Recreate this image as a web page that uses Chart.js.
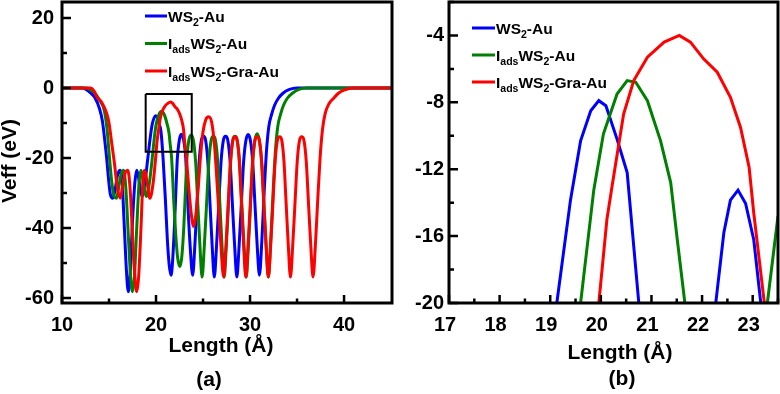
<!DOCTYPE html>
<html><head><meta charset="utf-8">
<script src="https://cdn.jsdelivr.net/npm/chart.js@4"></script>
<style>
html,body{margin:0;padding:0;background:#fff;width:780px;height:394px;overflow:hidden}
#a{position:absolute;left:0;top:0}
#b{position:absolute;left:395px;top:0}
</style></head><body>
<canvas id="a" width="395" height="394"></canvas>
<canvas id="b" width="385" height="394"></canvas>
<script>
// ---------- data ----------
const seriesNames = ['WS_{2}-Au', 'I_{ads}WS_{2}-Au', 'I_{ads}WS_{2}-Gra-Au'];
const seriesColors = ['#0000ff', '#008000', '#ff0000'];

const blueX = [10,12.2,12.6,13.0,13.5,14.0,14.3,14.55,14.75,14.95,15.15,15.4,15.65,15.9,16.15,16.4,16.6,16.85,17.05,17.25,17.5,17.75,17.95,18.2,18.5,18.8,19.13,19.4,19.6,19.8,19.96,20.1,20.32,20.52,20.75,21.0,21.2,21.4,21.6,21.75,21.95,22.12,22.27,22.43,22.56,22.71,22.86,23.02,23.16,23.4,23.65,23.9,24.13,24.36,24.59,24.82,25.05,25.28,25.51,25.74,25.97,26.2,26.44,26.68,26.92,27.16,27.4,27.64,27.88,28.12,28.36,28.6,28.84,29.08,29.32,29.56,29.8,30.04,30.28,30.52,30.76,31.0,31.25,31.5,31.75,32.0,32.3,32.6,33.0,33.5,34.2,35.0,45.1];
const blueY = [0,0,-0.5,-1.3,-2.8,-6,-9.5,-15,-20,-26,-30.5,-31.5,-29,-25,-23.5,-27,-38,-52,-58.2,-53,-38,-27,-23.5,-26.5,-31,-27.5,-20,-13.85,-10.3,-8.5,-7.9,-8.2,-10.2,-12.2,-20,-32,-43,-50.5,-53.5,-50,-40,-29,-20,-15.8,-13.85,-13.25,-14.05,-16.2,-20,-34,-46,-53.5,-45,-33,-21,-15,-13.8,-15,-21,-33,-45,-54,-45,-33,-21,-15,-13.8,-15,-21,-33,-45,-54,-45,-33,-21,-15,-13.3,-15,-21,-33,-45,-53.5,-44,-30,-18,-11,-7.5,-5,-3,-1.5,-0.4,0,0];

const greenX = [10,12.6,13.0,13.5,14.0,14.5,14.8,15.05,15.3,15.55,15.8,16.05,16.3,16.55,16.8,17.05,17.3,17.5,17.7,17.95,18.2,18.4,18.65,18.95,19.3,19.6,19.86,20.05,20.32,20.52,20.69,20.92,21.18,21.38,21.51,21.66,21.9,22.1,22.3,22.55,22.75,22.95,23.15,23.29,23.5,23.75,23.98,24.21,24.44,24.67,24.9,25.14,25.38,25.62,25.86,26.1,26.33,26.56,26.79,27.02,27.25,27.48,27.71,27.94,28.17,28.4,28.64,28.88,29.12,29.36,29.6,29.83,30.06,30.29,30.52,30.75,30.99,31.23,31.47,31.71,31.95,32.2,32.45,32.7,32.95,33.25,33.55,33.95,34.5,35.2,36.0,45.1];
const greenY = [0,0,-0.5,-1.5,-3.5,-6.5,-12,-20,-27,-31,-31.5,-28,-24.5,-23.5,-29,-42,-54,-58.2,-54,-40,-27,-23.5,-27,-31,-27,-20,-13.25,-9.9,-7.5,-6.7,-6.8,-7.9,-10.3,-12.8,-16.2,-20,-33,-42,-48.5,-51,-48,-40,-28,-20,-14.8,-13.4,-15,-21,-33,-45,-54,-45,-33,-21,-15,-13.8,-15,-21,-33,-45,-54,-45,-33,-21,-15,-13.8,-15,-21,-33,-45,-54,-45,-33,-21,-15,-13.1,-15,-21,-33,-45,-54,-44,-30,-18,-11,-7.5,-5,-3,-1.5,-0.4,0,0];

const redX = [10,13.0,13.4,13.7,14.2,14.75,15.0,15.3,15.6,15.85,16.2,16.5,16.75,17.0,17.25,17.5,17.75,17.95,18.15,18.4,18.6,18.8,19.05,19.35,19.7,19.96,20.12,20.22,20.45,20.65,20.92,21.25,21.55,21.77,22.03,22.3,22.56,22.76,22.93,23.02,23.23,23.5,23.75,24.0,24.25,24.5,24.75,25.0,25.3,25.6,25.92,26.24,26.56,26.88,27.2,27.44,27.68,27.92,28.16,28.4,28.63,28.86,29.09,29.32,29.55,29.79,30.03,30.27,30.51,30.75,30.99,31.23,31.47,31.71,31.95,32.19,32.43,32.67,32.91,33.15,33.38,33.61,33.84,34.07,34.3,34.54,34.78,35.02,35.26,35.5,35.74,35.98,36.22,36.46,36.7,36.95,37.2,37.45,37.7,38.0,38.4,38.9,39.4,40.0,41.0,45.1];
const redY = [0,0,-0.8,-2.5,-4,-7.2,-10,-16,-22,-28,-31.5,-27,-24,-23.5,-29,-42,-54,-58.2,-54,-40,-27,-23.5,-27,-31.5,-27,-20,-15,-13.05,-8.7,-6.7,-5.3,-4.4,-4.0,-4.4,-5.4,-6.2,-7.7,-9.5,-11.9,-14.6,-20,-29,-36,-39.6,-36,-28,-19,-12.5,-9,-8.2,-9.8,-17,-30,-44,-54,-45,-33,-21,-15,-13.9,-15,-21,-33,-45,-54,-45,-33,-21,-15,-13.9,-15,-21,-33,-45,-54,-45,-33,-21,-15,-13.9,-15,-21,-33,-45,-54,-45,-33,-21,-15,-13.9,-15,-21,-33,-45,-54,-45,-32,-20,-12,-7.2,-4.5,-2.9,-1.5,-0.6,0,0];

// zoom box drawn in panel (a)
const boxX = [18.9, 23.8];
const boxY = [-18.2, -1.7];

// tick values
const aXTicks = [10, 20, 30, 40];
const aXMinor = [15, 25, 35];
const aYTicks = [-60, -40, -20, 0, 20];
const aYMinor = [-50, -30, -10, 10];
const bXTicks = [17, 18, 19, 20, 21, 22, 23];
const bXMinor = [17.5, 18.5, 19.5, 20.5, 21.5, 22.5, 23.5];
const bYTicks = [-20, -16, -12, -8, -4];
const bYMinor = [-18, -14, -10, -6, -2];

const xTitle = 'Length (Å)';
const yTitle = 'Veff (eV)';

// ---------- helpers ----------
const FONT = '"Liberation Sans", Arial, Helvetica, sans-serif';
const pts = (xs, ys) => xs.map((x, i) => ({x, y: ys[i]}));
function parseRich(s){
  const parts=[]; const re=/_\{([^}]*)\}/g; let last=0,m;
  while((m=re.exec(s))){ if(m.index>last) parts.push({t:s.slice(last,m.index),sub:false}); parts.push({t:m[1],sub:true}); last=re.lastIndex; }
  if(last<s.length) parts.push({t:s.slice(last),sub:false});
  return parts;
}
function drawRich(ctx, s, x, y, size){
  let cx = x;
  ctx.textAlign='left'; ctx.textBaseline='alphabetic';
  for(const p of parseRich(s)){
    const fs = p.sub ? size*0.68 : size;
    ctx.font = 'bold ' + fs + 'px ' + FONT;
    ctx.fillText(p.t, cx, p.sub ? y + size*0.28 : y);
    cx += ctx.measureText(p.t).width;
  }
}
const decor = {
  id: 'decor',
  afterDraw(chart, args, o){
    const ctx = chart.ctx, a = chart.chartArea, xs = chart.scales.x, ys = chart.scales.y;
    ctx.save();
    ctx.strokeStyle = '#000'; ctx.fillStyle = '#000';
    ctx.lineWidth = 2.5;
    ctx.beginPath();
    o.xMajor.forEach(v => { const p = xs.getPixelForValue(v); ctx.moveTo(p, a.bottom); ctx.lineTo(p, a.bottom - 8); });
    o.xMinor.forEach(v => { const p = xs.getPixelForValue(v); ctx.moveTo(p, a.bottom); ctx.lineTo(p, a.bottom - 4.5); });
    o.yMajor.forEach(v => { const p = ys.getPixelForValue(v); ctx.moveTo(a.left, p); ctx.lineTo(a.left + 9, p); });
    o.yMinor.forEach(v => { const p = ys.getPixelForValue(v); ctx.moveTo(a.left, p); ctx.lineTo(a.left + 5, p); });
    ctx.stroke();
    ctx.lineWidth = 3;
    ctx.strokeRect(a.left, a.top, a.right - a.left, a.bottom - a.top);
    // legend
    seriesNames.forEach((n, i) => {
      const y = o.legY + i * o.legDy;
      ctx.strokeStyle = seriesColors[i]; ctx.lineWidth = 3;
      ctx.beginPath(); ctx.moveTo(o.legX, y); ctx.lineTo(o.legX + o.legLen, y); ctx.stroke();
      ctx.fillStyle = '#000';
      drawRich(ctx, n, o.legX + o.legLen + 1, y + 5.5, 15.5);
    });
    // titles
    ctx.fillStyle = '#000';
    ctx.textAlign = 'center'; ctx.textBaseline = 'alphabetic';
    ctx.font = 'bold 21px ' + FONT;
    ctx.fillText(xTitle, o.xtX, o.xtY);
    ctx.fillText(o.panel, o.pX, o.pY);
    if (o.yTitle) {
      ctx.translate(o.ytX, o.ytY); ctx.rotate(-Math.PI/2);
      ctx.textBaseline = 'middle';
      ctx.fillText(yTitle, 0, 0);
    }
    ctx.restore();
  }
};

function makeChart(id, cfg){
  const datasets = [];
  if (cfg.box) {
    datasets.push({label:'box', data:[{x:boxX[0],y:boxY[1]},{x:boxX[1],y:boxY[1]},{x:boxX[1],y:boxY[0]},{x:boxX[0],y:boxY[0]},{x:boxX[0],y:boxY[1]}],
      borderColor:'#000', borderWidth:2, pointRadius:0, tension:0, fill:false});
  }
  const series = [[redX, redY, 2], [greenX, greenY, 1], [blueX, blueY, 0]];
  series.forEach(([xs, ys, i]) => datasets.push({
    label: seriesNames[i], data: pts(xs, ys), borderColor: seriesColors[i], borderWidth: 3,
    pointRadius: 0, fill: false,
    cubicInterpolationMode: cfg.smooth ? 'monotone' : 'default', tension: 0
  }));
  const tickFont = {family: FONT, size: 20, weight: 'bold'};
  return new Chart(document.getElementById(id), {
    type: 'line',
    data: {datasets},
    options: {
      responsive: false, animation: false, devicePixelRatio: 1,
      layout: {padding: {left: 0, right: cfg.padR, top: 2, bottom: 0}},
      plugins: {legend: {display: false}, tooltip: {enabled: false}, decor: cfg.decor},
      scales: {
        x: {type: 'linear', min: cfg.xr[0], max: cfg.xr[1],
          grid: {display: false, drawTicks: false}, border: {display: false},
          afterBuildTicks: s => { s.ticks = cfg.xt.map(v => ({value: v})); },
          afterFit: s => { s.height = 91; s.paddingLeft = 0; s.paddingRight = 0; },
          ticks: {font: tickFont, color: '#000', padding: cfg.xPad, autoSkip: false, maxRotation: 0, labelOffset: cfg.labOff, callback: v => String(v)}},
        y: {type: 'linear', min: cfg.yr[0], max: cfg.yr[1],
          grid: {display: false, drawTicks: false}, border: {display: false},
          afterBuildTicks: s => { s.ticks = cfg.yt.map(v => ({value: v})); },
          afterFit: s => { s.width = cfg.yW; s.paddingTop = 0; s.paddingBottom = 0; },
          ticks: {font: tickFont, color: '#000', padding: cfg.yPad, autoSkip: false, callback: v => String(v)}}
      }
    },
    plugins: [decor]
  });
}

makeChart('a', {box: true, smooth: true, xr: [10, 45.1], yr: [-61.43, 24.57], xt: aXTicks, yt: aYTicks,
  padR: 3, yW: 62, xPad: 10, yPad: 8, labOff: 0,
  decor: {xMajor: aXTicks, xMinor: aXMinor, yMajor: aYTicks, yMinor: aYMinor,
    legX: 145, legLen: 22, legY: 16, legDy: 27.5, xtX: 221, xtY: 352, panel: '(a)', pX: 209, pY: 386,
    yTitle: true, ytX: 10, ytY: 161}});

makeChart('b', {box: false, smooth: false, xr: [17, 23.5], yr: [-20, -2], xt: bXTicks, yt: bYTicks,
  padR: 2, yW: 54, xPad: 10, yPad: 5, labOff: -4,
  decor: {xMajor: bXTicks, xMinor: bXMinor, yMajor: bYTicks, yMinor: bYMinor,
    legX: 77, legLen: 23, legY: 28, legDy: 27, xtX: 225, xtY: 359, panel: '(b)', pX: 227, pY: 385,
    yTitle: false}});
</script></body></html>
